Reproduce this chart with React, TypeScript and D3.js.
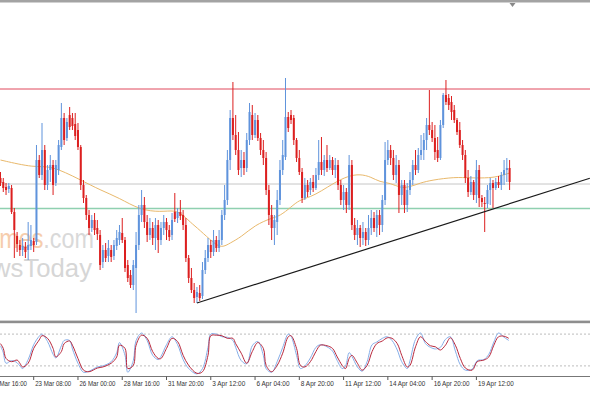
import React from 'react';
import * as d3 from 'd3';

// Prices are stored as pips above 1.1700 (price = 1.17 + pips / 10000)
const BASE = 1.17;
const PIP = 0.0001;

const openPips = [
  211, 207, 202, 200, 201, 177, 153, 144, 139, 142,
  139, 143, 148, 147, 229, 214, 239, 204, 219, 224,
  206, 219, 242, 271, 251, 274, 271, 265, 259, 242,
  204, 191, 174, 161, 169, 161, 154, 127, 139, 133,
  139, 133, 143, 149, 156, 149, 124, 114, 104, 121,
  144, 174, 184, 167, 154, 161, 151, 164, 149, 161,
  167, 159, 154, 177, 171, 177, 174, 164, 131, 111,
  99, 92, 96, 93, 119, 131, 144, 137, 149, 141,
  149, 174, 189, 229, 271, 254, 239, 221, 229, 221,
  249, 274, 254, 269, 251, 239, 231, 199, 174, 161,
  167, 189, 219, 232, 272, 274, 271, 249, 231, 217,
  191, 204, 199, 207, 201, 214, 227, 219, 229, 221,
  229, 219, 224, 204, 189, 197, 184, 224, 164, 154,
  161, 151, 157, 149, 161, 171, 161, 174, 164, 189,
  229, 239, 231, 214, 224, 194, 204, 184, 199, 209,
  224, 219, 234, 239, 249, 264, 259, 251, 239, 231,
  264, 294, 291, 287, 279, 269, 259, 244, 234, 211,
  197, 207, 194, 219, 191, 186, 185, 199, 206, 201,
  207, 204, 214, 219, 221,
];
const highPips = [
  217, 211, 206, 206, 204, 181, 157, 149, 151, 147,
  167, 164, 151, 244, 234, 266, 244, 224, 234, 229,
  229, 249, 286, 276, 271, 282, 276, 276, 266, 244,
  209, 194, 179, 174, 176, 169, 159, 144, 146, 149,
  144, 149, 159, 164, 171, 152, 129, 119, 129, 157,
  184, 199, 192, 174, 171, 167, 171, 169, 167, 174,
  171, 164, 176, 196, 181, 189, 179, 171, 134, 121,
  106, 102, 104, 127, 139, 151, 149, 159, 153, 159,
  179, 204, 239, 279, 307, 274, 257, 239, 237, 256,
  286, 284, 276, 274, 256, 249, 237, 204, 184, 174,
  199, 229, 249, 311, 277, 279, 274, 251, 239, 221,
  211, 209, 211, 214, 221, 249, 252, 234, 244, 234,
  232, 231, 229, 209, 204, 201, 234, 229, 171, 169,
  164, 167, 161, 174, 179, 177, 179, 179, 194, 247,
  249, 244, 239, 234, 229, 209, 209, 206, 217, 229,
  239, 241, 254, 256, 271, 299, 267, 264, 252, 269,
  296, 309, 295, 293, 284, 271, 267, 249, 239, 219,
  213, 209, 229, 224, 194, 192, 204, 211, 209, 211,
  213, 217, 229, 231, 229,
];
const lowPips = [
  203, 197, 194, 196, 175, 131, 137, 133, 133, 131,
  129, 139, 137, 144, 211, 209, 199, 199, 207, 194,
  203, 214, 239, 244, 248, 259, 259, 249, 239, 199,
  186, 169, 154, 157, 154, 149, 119, 121, 127, 127,
  127, 129, 139, 144, 146, 117, 107, 101, 99, 76,
  139, 167, 161, 147, 149, 144, 139, 136, 144, 154,
  149, 148, 149, 167, 166, 169, 159, 127, 106, 96,
  86, 86, 88, 90, 115, 127, 131, 133, 137, 137,
  144, 169, 184, 219, 249, 234, 214, 212, 214, 217,
  244, 249, 251, 248, 234, 224, 194, 164, 149, 144,
  154, 184, 214, 229, 257, 265, 244, 227, 214, 186,
  189, 192, 194, 197, 199, 209, 214, 213, 217, 219,
  214, 211, 199, 184, 179, 176, 179, 159, 149, 144,
  142, 144, 143, 144, 154, 157, 152, 154, 157, 184,
  224, 224, 209, 206, 176, 184, 176, 177, 194, 204,
  214, 216, 229, 229, 239, 254, 247, 229, 227, 229,
  261, 284, 279, 269, 266, 254, 241, 229, 206, 192,
  194, 189, 186, 182, 182, 157, 181, 184, 181, 199,
  201, 199, 204, 207, 199,
];
const closePips = [
  206, 201, 199, 203, 177, 159, 145, 139, 143, 137,
  144, 149, 144, 229, 214, 239, 204, 219, 224, 204,
  224, 244, 271, 249, 267, 262, 263, 253, 242, 204,
  191, 174, 161, 169, 159, 155, 124, 139, 131, 141,
  132, 144, 151, 157, 149, 121, 111, 104, 124, 144,
  174, 184, 167, 154, 161, 151, 164, 149, 161, 167,
  159, 152, 169, 170, 177, 173, 164, 131, 111, 99,
  91, 97, 91, 119, 131, 144, 137, 149, 141, 149,
  174, 189, 229, 271, 254, 239, 219, 229, 221, 249,
  277, 254, 269, 251, 239, 231, 199, 174, 161, 169,
  189, 219, 234, 272, 261, 269, 249, 231, 217, 191,
  204, 197, 207, 201, 214, 227, 219, 229, 221, 229,
  219, 224, 204, 189, 197, 184, 224, 164, 154, 161,
  151, 157, 149, 161, 171, 161, 174, 164, 189, 229,
  239, 231, 214, 224, 194, 204, 184, 199, 209, 224,
  219, 234, 239, 249, 264, 259, 251, 237, 231, 264,
  294, 287, 284, 277, 269, 257, 244, 234, 211, 197,
  207, 194, 219, 191, 187, 185, 199, 206, 201, 207,
  204, 214, 219, 221, 207,
];

// moving average (read at sample bars)
const maBars = [0, 12.5, 18, 29, 36, 43, 50.4, 58, 63, 66, 68.5, 72, 77, 80, 83, 87, 92, 98, 101, 105, 108, 112, 116, 120.5, 125.5, 130, 134, 137, 141, 144.4, 148, 151.6, 156, 164.3, 169.7, 177, 180.5, 184];
const maPips = [229, 221, 224, 209, 199, 191, 179, 177, 179, 174, 167, 159, 146, 141, 146, 152, 164, 171, 173, 182, 189, 192, 198, 206, 213, 215, 212, 207, 206, 201, 202, 206, 209, 212, 211, 211, 213, 216];

// horizontal levels and trend line
const resistance = 1.2000;
const midLevel = 1.1905;
const supportLevel = 1.18805;
const trendBars = [71, 213];
const trendPrices = [1.1786, 1.19108];

// stochastic oscillator (%K blue, %D red)
const stochBars = [0, 1, 2, 4, 6, 7, 8, 10, 12, 14, 15, 17, 19, 20, 22, 23, 25, 26, 28, 30, 32, 35, 37, 40, 42, 43, 45, 46, 48, 49, 51, 53, 55, 57, 58, 60, 62, 64, 66, 68, 71, 73, 75, 76, 78, 80, 82, 84, 85, 87, 89, 91, 93, 95, 96, 98, 100, 102, 104, 105, 107, 108.4, 110, 112, 114, 115.6, 118, 120, 121.7, 123.5, 124.7, 126, 127, 129, 130.7, 132.5, 134.3, 136, 138, 139.8, 141.5, 143.4, 145, 147, 148, 150, 151.8, 153.6, 155.4, 157.2, 159, 160.8, 162.6, 164.4, 166.2, 168, 170.5, 172.3, 174.7, 176.5, 178.3, 180, 182, 183.7];
const stochD = [62, 53, 34, 28, 31, 25, 18, 25, 53, 69, 77, 72, 53, 37, 47, 62, 67, 59, 34, 12, 9, 16, 18, 25, 37, 59, 53, 15, 21, 59, 78, 72, 47, 34, 34, 53, 72, 66, 40, 21, 6, 9, 40, 77, 78, 77, 72, 72, 62, 44, 25, 47, 64, 53, 21, 9, 21, 44, 75, 77, 53, 21, 18, 28, 47, 59, 58, 53, 37, 21, 15, 34, 40, 25, 12, 21, 47, 62, 67, 73, 72, 62, 40, 18, 21, 56, 75, 66, 58, 56, 50, 59, 73, 59, 34, 16, 12, 28, 31, 37, 59, 75, 76, 72];
const stochK = [58, 45, 25, 30, 26, 20, 15, 32, 60, 76, 80, 66, 42, 35, 58, 68, 68, 52, 25, 8, 10, 18, 20, 28, 45, 64, 40, 8, 30, 68, 82, 68, 40, 32, 38, 60, 75, 60, 32, 15, 5, 15, 55, 80, 80, 75, 74, 68, 55, 30, 24, 58, 66, 40, 15, 8, 28, 55, 80, 76, 40, 15, 20, 35, 55, 60, 56, 48, 30, 15, 20, 45, 38, 18, 10, 28, 60, 65, 72, 75, 68, 50, 28, 15, 30, 70, 82, 62, 55, 52, 55, 70, 75, 48, 22, 12, 14, 30, 32, 42, 65, 82, 74, 68];

// time axis
const labelBars = [-4, 12, 28, 44, 60, 76, 92, 108, 124, 140, 156, 172];
const labelTexts = ['20 Mar 16:00', '23 Mar 08:00', '26 Mar 00:00', '28 Mar 16:00', '31 Mar 20:00', '3 Apr 12:00', '6 Apr 04:00', '8 Apr 20:00', '11 Apr 12:00', '14 Apr 04:00', '16 Apr 20:00', '19 Apr 12:00'];

const W = 590;
const H = 393;
const BULL = '#5f93dc';
const BEAR = '#dc1f1f';

export default function App() {
  const toPrice = (p: number) => BASE + p * PIP;
  const n = closePips.length;
  const x = d3.scaleLinear().domain([0, n - 1]).range([0.5, 509.6]);
  const y = d3.scaleLinear().domain([toPrice(68), toPrice(386)]).range([321, 3]);
  const ys = d3.scaleLinear().domain([0, 100]).range([376.5, 323.5]);

  const candles = d3.range(n).map((i) => ({
    i,
    o: toPrice(openPips[i]),
    h: toPrice(highPips[i]),
    l: toPrice(lowPips[i]),
    c: toPrice(closePips[i]),
  }));

  const maLine = d3
    .line<number>()
    .x((_, k) => x(maBars[k]))
    .y((d) => y(toPrice(d)))
    .curve(d3.curveBasis)(maPips) as string;

  const trendLine = d3
    .line<number>()
    .x((_, k) => x(trendBars[k]))
    .y((d) => y(d))(trendPrices) as string;

  const stochLine = (vals: number[]) =>
    d3
      .line<number>()
      .x((_, k) => x(stochBars[k]))
      .y((d) => ys(d))
      .curve(d3.curveCatmullRom)(vals) as string;

  return (
    <svg
      width={W}
      height={H}
      viewBox={`0 0 ${W} ${H}`}
      style={{ position: 'absolute', left: 0, top: 0, display: 'block', background: '#fff' }}
    >
      <defs>
        <clipPath id="mainClip">
          <rect x={0} y={3} width={W} height={317} />
        </clipPath>
        <clipPath id="stochClip">
          <rect x={0} y={323.5} width={W} height={53} />
        </clipPath>
      </defs>
      <rect x={0} y={0} width={W} height={H} fill="#ffffff" />

      {/* watermark */}
      <g clipPath="url(#mainClip)" fontFamily="Liberation Sans, Arial, sans-serif">
        <text x={-6} y={248} fontSize={27} textLength={100} lengthAdjust="spacingAndGlyphs">
          <tspan fill="#f6cdad">imes</tspan>
          <tspan fill="#d9d9d9">.com</tspan>
        </text>
        <text x={-8} y={277} fontSize={26} fill="#d6d6d6" textLength={100} lengthAdjust="spacingAndGlyphs">
          wsToday
        </text>
      </g>

      {/* frame */}
      <rect x={0} y={0} width={W} height={2.5} fill="#a3a3a3" />
      <path d="M509.5,3 L515.5,3 L512.5,7 Z" fill="#888" />
      <rect x={0} y={320.6} width={W} height={2.6} fill="#8e8e8e" />
      <line x1={0} x2={W} y1={376.5} y2={376.5} stroke="#777" strokeWidth={1} />

      {/* main panel */}
      <g clipPath="url(#mainClip)">
        <line x1={0} x2={W} y1={y(midLevel)} y2={y(midLevel)} stroke="#c6c6c6" strokeWidth={1} />
        <line x1={0} x2={W} y1={y(supportLevel)} y2={y(supportLevel)} stroke="#8fd0b0" strokeWidth={1.5} />
        <line x1={0} x2={W} y1={y(resistance)} y2={y(resistance)} stroke="#e0485c" strokeWidth={1} />
        <path d={maLine} fill="none" stroke="#e9b96c" strokeWidth={1} />
        {candles.map((d) => {
          const cx = x(d.i);
          const col = d.c >= d.o ? BULL : BEAR;
          const top = y(Math.max(d.o, d.c));
          const bot = y(Math.min(d.o, d.c));
          return (
            <g key={d.i}>
              <line x1={cx} x2={cx} y1={y(d.h)} y2={y(d.l)} stroke={col} strokeWidth={1} />
              <rect x={cx - 1} y={top} width={2} height={Math.max(1, bot - top)} fill={col} />
            </g>
          );
        })}
        <path d={trendLine} fill="none" stroke="#1a1a1a" strokeWidth={1.2} />
      </g>

      {/* stochastic panel */}
      <g clipPath="url(#stochClip)">
        <line x1={0} x2={W} y1={ys(80)} y2={ys(80)} stroke="#bdbdbd" strokeDasharray="2,2" strokeWidth={1} />
        <line x1={0} x2={W} y1={ys(20)} y2={ys(20)} stroke="#bdbdbd" strokeDasharray="2,2" strokeWidth={1} />
        <path d={stochLine(stochK)} fill="none" stroke="#86aee8" strokeWidth={1} />
        <path d={stochLine(stochD)} fill="none" stroke="#b8283c" strokeWidth={1} />
      </g>

      {/* time axis */}
      <g fontFamily="Liberation Sans, Arial, sans-serif" fontSize={7.3} fill="#333">
        {labelBars.map((b, k) => {
          const tx = x(b);
          return (
            <g key={k}>
              <line x1={tx} x2={tx} y1={376.5} y2={380} stroke="#555" strokeWidth={1} />
              <text x={tx + 1.5} y={386} textLength={labelTexts[k].length * 3} lengthAdjust="spacingAndGlyphs">
                {labelTexts[k]}
              </text>
            </g>
          );
        })}
      </g>
    </svg>
  );
}
